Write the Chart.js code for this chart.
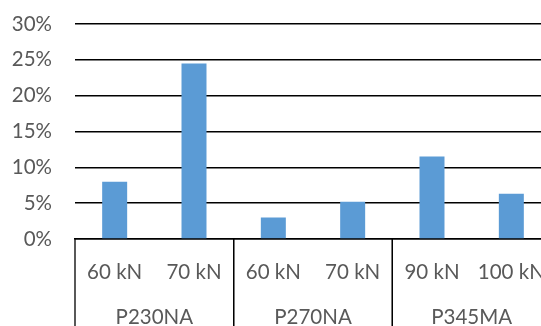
<!DOCTYPE html>
<html>
<head>
<meta charset="utf-8">
<script src="https://cdn.jsdelivr.net/npm/chart.js@4"></script>
<style>
  html, body { margin: 0; padding: 0; background: #fff; overflow: hidden; }
  #wrap { position: relative; width: 560px; height: 326px; }
</style>
</head>
<body>
<div id="wrap"><canvas id="c"></canvas></div>
<script>
// Load levels (inner category row) and steel grades (outer row)
const loads = ['60 kN', '70 kN', '60 kN', '70 kN', '90 kN', '100 kN'];
const grades = ['P230NA', 'P230NA', 'P270NA', 'P270NA', 'P345MA', 'P345MA'];
const shares = [8.0, 24.5, 3.0, 5.2, 11.5, 6.3];
const yTicks = [0, 5, 10, 15, 20, 25, 30];

const FONT = 'Lato, "Liberation Sans", Arial, sans-serif';
const FONT_SIZE = 20.5;
const TEXT = '#595959';

// Draws the outer grade row and the boxes separating the groups
const groupAxis = {
  id: 'groupAxis',
  afterDraw(chart) {
    const { ctx, chartArea, scales } = chart;
    const x = scales.x;
    const n = grades.length;
    const half = (x.getPixelForValue(1) - x.getPixelForValue(0)) / 2;
    const top = chartArea.bottom;
    const bottom = chart.height;
    ctx.save();
    ctx.strokeStyle = '#000';
    ctx.lineWidth = 1.3;
    ctx.fillStyle = TEXT;
    ctx.font = FONT_SIZE + 'px ' + FONT;
    ctx.textAlign = 'center';
    ctx.textBaseline = 'middle';
    let start = 0;
    for (let i = 1; i <= n; i++) {
      if (i === n || grades[i] !== grades[start]) {
        const left = x.getPixelForValue(start) - half;
        const right = x.getPixelForValue(i - 1) + half;
        ctx.beginPath();
        ctx.moveTo(left, top); ctx.lineTo(left, bottom);
        ctx.moveTo(right, top); ctx.lineTo(right, bottom);
        ctx.stroke();
        ctx.fillText(grades[start], (left + right) / 2, 317);
        start = i;
      }
    }
    ctx.restore();
  }
};

new Chart(document.getElementById('c'), {
  type: 'bar',
  data: {
    labels: loads,
    datasets: [{
      data: shares,
      backgroundColor: '#5B9BD5',
      borderWidth: 0,
      categoryPercentage: 1,
      barPercentage: 0.315
    }]
  },
  options: {
    responsive: true,
    maintainAspectRatio: false,
    animation: false,
    events: [],
    layout: { padding: { top: 24, right: 9, left: 0, bottom: 0 } },
    plugins: { legend: { display: false }, tooltip: { enabled: false } },
    scales: {
      x: {
        grid: { display: false, drawTicks: false },
        border: { display: true, color: '#000', width: 1.4 },
        ticks: {
          color: TEXT,
          font: { family: FONT, size: FONT_SIZE },
          padding: 21,
          maxRotation: 0,
          autoSkip: false
        },
        afterFit(scale) { scale.height = 87; scale.paddingLeft = 0; scale.paddingRight = 0; }
      },
      y: {
        min: 0,
        max: 30,
        afterBuildTicks(scale) { scale.ticks = yTicks.map(v => ({ value: v })); },
        grid: { color: '#000', lineWidth: 1.6, drawTicks: false },
        border: { display: false },
        ticks: {
          color: TEXT,
          font: { family: FONT, size: FONT_SIZE },
          padding: 23,
          callback: v => v + '%'
        },
        afterFit(scale) { scale.width = 75; scale.paddingTop = 0; scale.paddingBottom = 0; }
      }
    }
  },
  plugins: [groupAxis]
});
</script>
</body>
</html>
